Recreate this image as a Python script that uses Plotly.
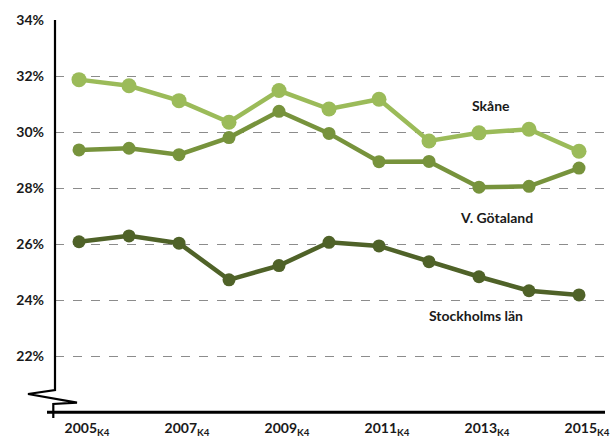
import plotly.graph_objects as go

years = [2005, 2006, 2007, 2008, 2009, 2010, 2011, 2012, 2013, 2014, 2015]
skane = [31.87, 31.65, 31.12, 30.35, 31.48, 30.82, 31.17, 29.68, 29.97, 30.10, 29.31]
vgotaland = [29.36, 29.42, 29.19, 29.80, 30.74, 29.95, 28.94, 28.95, 28.03, 28.06, 28.71]
stockholm = [26.08, 26.29, 26.03, 24.72, 25.23, 26.06, 25.93, 25.37, 24.83, 24.33, 24.18]

tick_years = [2005, 2007, 2009, 2011, 2013, 2015]
tick_labels = [f"{y}<sub>K4</sub>" for y in tick_years]
y_ticks = [22, 24, 26, 28, 30, 32, 34]
y_labels = [f"{v}%" for v in y_ticks]

series = [
    ("Skåne", skane, "#9BBB59", 15, 4.5),
    ("V. Götaland", vgotaland, "#77933C", 13, 4.5),
    ("Stockholms län", stockholm, "#4F6228", 13, 4.5),
]

labels = [
    ("Skåne", 2013.24, 30.93),
    ("V. Götaland", 2013.34, 26.96),
    ("Stockholms län", 2012.94, 23.43),
]

FONT = "Lato"

fig = go.Figure()
for name, vals, color, msize, lw in series:
    fig.add_trace(go.Scatter(
        x=years, y=vals, mode="lines+markers", name=name,
        line=dict(color=color, width=lw),
        marker=dict(color=color, size=msize, line=dict(width=0)),
        cliponaxis=False,
    ))

for text, x, y in labels:
    fig.add_annotation(x=x, y=y, text=text, showarrow=False,
                       font=dict(family=FONT, size=14, color="#1a1a1a", weight="bold"))

W, H = 613, 438
L, R, T, B = 55, 0, 20, 26
pw = W - L - R
ph = H - T - B


def px(x):
    return (x - L) / pw


def py(y):
    return (H - B - y) / ph


# y-axis line with break symbol
path = (f"M {px(55)},{py(20)} L {px(55)},{py(390)} L {px(28)},{py(394)} "
        f"L {px(77)},{py(402.7)} L {px(53.3)},{py(404)} L {px(53.3)},{py(418)}")
fig.add_shape(type="path", path=path, xref="paper", yref="paper",
              line=dict(color="black", width=2.2))
# x-axis line
fig.add_shape(type="line", xref="paper", yref="paper",
              x0=px(47), x1=px(605), y0=py(412.3), y1=py(412.3),
              line=dict(color="black", width=3))

fig.update_layout(
    width=W, height=H,
    margin=dict(l=L, r=R, t=T, b=B),
    paper_bgcolor="white", plot_bgcolor="white",
    showlegend=False,
    font=dict(family=FONT, size=13, color="#1a1a1a"),
)
fig.update_xaxes(
    range=[2004.52, 2015.68], tickvals=tick_years, ticktext=tick_labels,
    showgrid=False, zeroline=False, showline=False, ticks="",
    tickfont=dict(family=FONT, size=14, color="#1a1a1a", weight="bold"),
    ticklabelstandoff=6, ticklabelshift=8,
)
fig.update_yaxes(
    range=[20, 34], tickvals=y_ticks, ticktext=y_labels,
    showgrid=True, gridcolor="#8c8c8c", gridwidth=1.4, griddash="dash",
    zeroline=False, showline=False, ticks="",
    tickfont=dict(family=FONT, size=14, color="#1a1a1a", weight="bold"),
    ticklabelstandoff=10,
)

fig.write_html("out.html",
               config={"displayModeBar": False},
               post_script="document.body.style.margin='0px';document.body.style.overflow='hidden';")
